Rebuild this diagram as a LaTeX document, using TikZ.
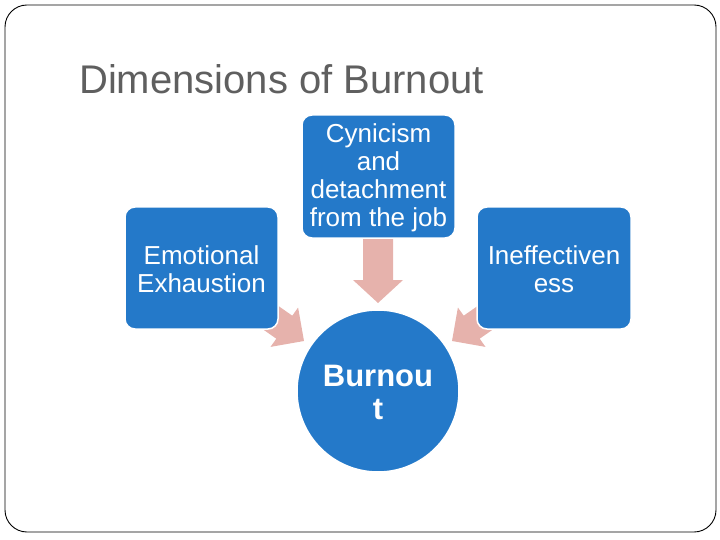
\documentclass[tikz,border=0pt]{standalone}
\usepackage{fontspec}
\setmainfont{Liberation Sans}
\definecolor{boxblue}{RGB}{36,121,201}
\definecolor{arrowpink}{RGB}{230,178,172}
\definecolor{titlegray}{RGB}{95,95,95}
\begin{document}
\begin{tikzpicture}[x=1pt,y=-1pt,
  dimbox/.style={draw=white,line width=1.5pt,fill=boxblue,rounded corners=10pt},
  boxtext/.style={text=white,align=center,font=\fontsize{26}{28}\selectfont},
  blockarrow/.style={fill=arrowpink,draw=none}]
\useasboundingbox (0,0) rectangle (720,540);
\draw[black,line width=0.9pt,rounded corners=22pt] (5,5) rectangle (716,532);
\node[anchor=base west,text=titlegray,font=\fontsize{40}{44}\selectfont,inner sep=0pt] (title) at (79,94) {Dimensions of Burnout};
% block arrows
\fill[blockarrow] (363,236) -- (393,236) -- (393,280) -- (403,280) -- (378,303) -- (353,280) -- (363,280) -- cycle;
\fill[blockarrow] (251.7,321.5) -- (267.7,298.5) -- (292.3,315.7) -- (298.1,307.5) -- (304,341) -- (270.5,346.9) -- (276.3,338.7) -- cycle;
\fill[blockarrow] (504.3,321.5) -- (488.3,298.5) -- (463.7,315.7) -- (457.9,307.5) -- (452,341) -- (485.5,346.9) -- (479.7,338.7) -- cycle;
% boxes
\path[dimbox] (302,115) rectangle (455,238);
\node[boxtext] (cyn) at (378.5,177.5) {Cynicism\\and\\detachment\\from the job};
\path[dimbox] (125,207) rectangle (278,329);
\node[boxtext] (emo) at (201.5,269) {Emotional\\Exhaustion};
\path[dimbox] (477,207) rectangle (631,329);
\node[boxtext] (ineff) at (554,269) {Ineffectiven\\ess};
\fill[boxblue,draw=white,line width=1.5pt] (378,391) circle (81);
\node[text=white,align=center,font=\bfseries\fontsize{31}{33}\selectfont] (burn) at (378,392) {Burnou\\t};
\end{tikzpicture}
\end{document}
